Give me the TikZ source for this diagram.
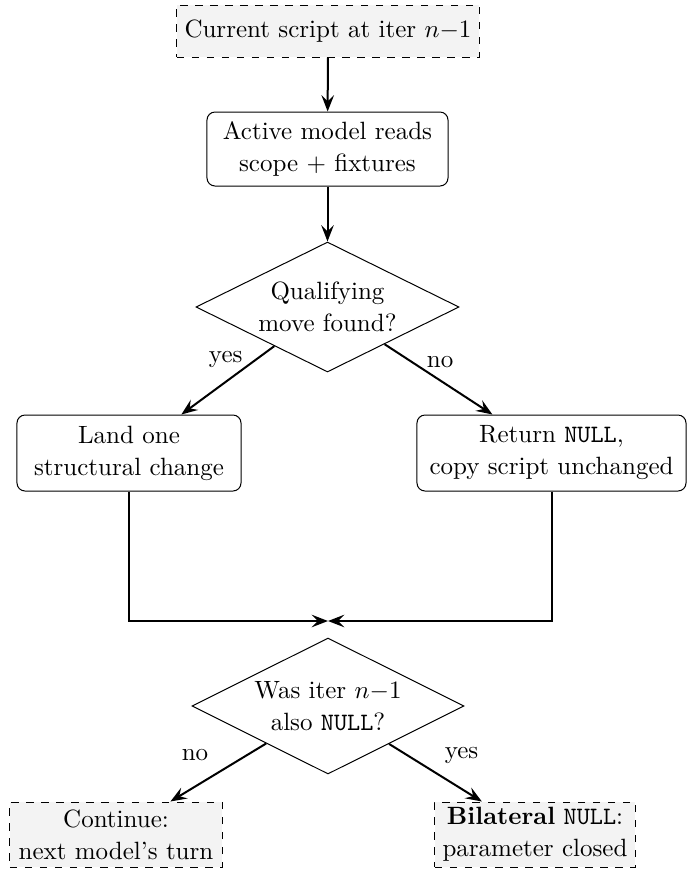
\documentclass[tikz,border=0pt]{standalone}
\usetikzlibrary{shapes.geometric,arrows.meta}
\definecolor{startfill}{RGB}{243,243,243}
\begin{document}
\begin{tikzpicture}[x=0.4pt,y=-0.4pt,
  every node/.style={font=\fontsize{10pt}{12.8pt}\selectfont},
  termbox/.style={draw, dashed, fill=startfill, align=center, inner xsep=1pt, inner ysep=1pt},
  procbox/.style={draw, rounded corners=3.2pt, align=center, inner xsep=1pt, inner ysep=1pt},
  decision/.style={draw, diamond, shape aspect=2, align=center, inner sep=0pt},
  arr/.style={thick, -{Stealth[length=6.5pt,width=5pt,inset=2.4pt]}},
  lbl/.style={inner sep=0pt}]
\useasboundingbox (0,0) rectangle (687,869);
\node[termbox, minimum width=120.8pt, minimum height=20.8pt] (cur) at (328,31) {Current script at iter $n{-}1$};
\node[procbox, minimum width=96.4pt, minimum height=29.6pt] (act) at (327.5,149) {Active model reads\\scope + fixtures};
\node[decision, minimum width=105.2pt, minimum height=52pt] (d1) at (327.5,307) {Qualifying\\move found?};
\node[procbox, minimum width=89.6pt, minimum height=30.4pt] (land) at (129,453) {Land one\\structural change};
\node[procbox, minimum width=107.6pt, minimum height=30.4pt] (ret) at (551.5,453) {Return \texttt{NULL},\\copy script unchanged};
\coordinate (merge) at (328,621);
\node[decision, minimum width=108.8pt, minimum height=54.4pt] (d2) at (328,706) {Was iter $n{-}1$\\also \texttt{NULL}?};
\node[termbox, minimum width=84.8pt, minimum height=26pt] (cont) at (116,834.5) {Continue:\\next model's turn};
\node[termbox, minimum width=80pt, minimum height=26pt] (bil) at (535,834.5) {\textbf{Bilateral} \texttt{NULL}:\\parameter closed};

\draw[arr] (cur) -- (act);
\draw[arr] (act) -- (d1);
\draw[arr] (d1) -- node[lbl, pos=0.2, xshift=-12pt] {yes} (land);
\draw[arr] (d1) -- node[lbl, pos=0.26, xshift=11pt] {no} (ret);
\draw[arr] (land.south) |- (merge);
\draw[arr] (ret.south) |- (merge);
\draw[arr] (d2) -- node[lbl, pos=0.2, xshift=-20.8pt] {no} (cont);
\draw[arr] (d2) -- node[lbl, pos=0.2, xshift=21.6pt] {yes} (bil);
\end{tikzpicture}
\end{document}
